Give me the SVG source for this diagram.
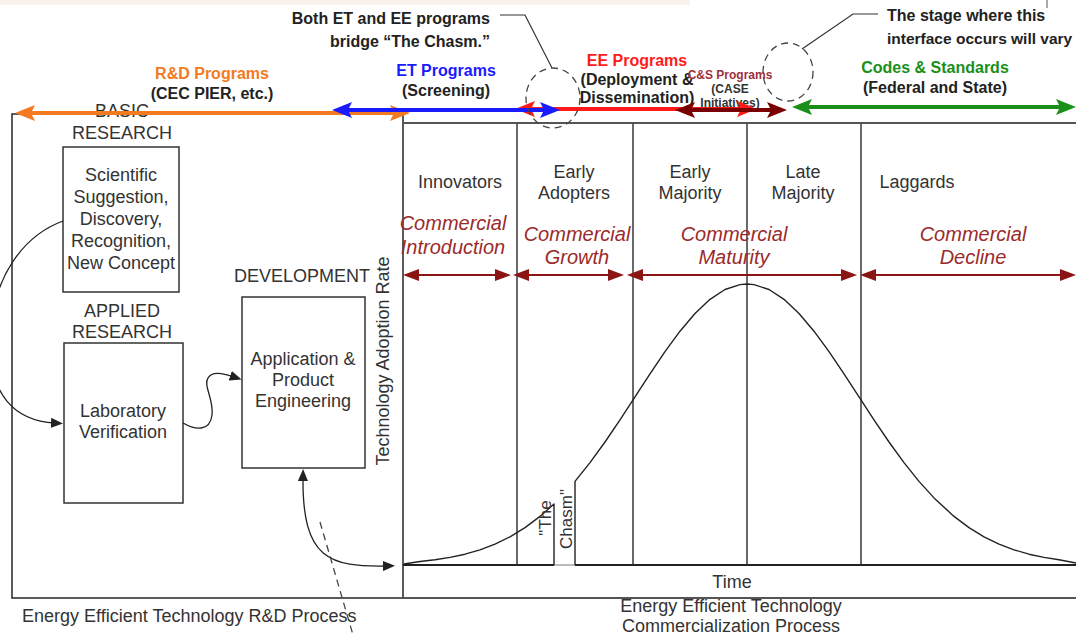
<svg xmlns="http://www.w3.org/2000/svg" width="1076" height="635" viewBox="0 0 1076 635">
<style>
text { font-family: "Liberation Sans", Arial, sans-serif; }
.t { font-size: 18px; fill: #333; text-anchor: middle; }
.it { font-size: 20px; fill: #9b2b2b; font-style: italic; text-anchor: middle; }
.b { font-size: 16px; font-weight: bold; fill: #222; text-anchor: middle; }
.s { font-size: 12px; font-weight: bold; fill: #333; text-anchor: middle; }
.box { fill: #fff; stroke: #333; stroke-width: 1.5; }
.ln { stroke: #444; stroke-width: 1.6; fill: none; }
.conn { stroke: #222; stroke-width: 1.3; fill: none; }
.dash { stroke: #444; stroke-width: 1.3; fill: none; stroke-dasharray: 7 5; }
.prog { stroke-width: 4; fill: none; }
.dr { stroke: #8b1414; stroke-width: 2; fill: none; marker-start: url(#aDr); marker-end: url(#aDr); }
</style>
<defs>
<marker id="aOr" viewBox="0 0 20 16" markerWidth="20" markerHeight="16" refX="8" refY="8" orient="auto-start-reverse" markerUnits="userSpaceOnUse"><path d="M0,0 L20,8 L0,16 L4,8 z" fill="#f47a20"/></marker>
<marker id="aBl" viewBox="0 0 20 16" markerWidth="20" markerHeight="16" refX="8" refY="8" orient="auto-start-reverse" markerUnits="userSpaceOnUse"><path d="M0,0 L20,8 L0,16 L4,8 z" fill="#1a1aff"/></marker>
<marker id="aRd" viewBox="0 0 20 16" markerWidth="20" markerHeight="16" refX="8" refY="8" orient="auto-start-reverse" markerUnits="userSpaceOnUse"><path d="M0,0 L20,8 L0,16 L4,8 z" fill="#ff1a1a"/></marker>
<marker id="aDk" viewBox="0 0 20 16" markerWidth="20" markerHeight="16" refX="8" refY="8" orient="auto-start-reverse" markerUnits="userSpaceOnUse"><path d="M0,0 L20,8 L0,16 L4,8 z" fill="#7a0000"/></marker>
<marker id="aGr" viewBox="0 0 20 16" markerWidth="20" markerHeight="16" refX="8" refY="8" orient="auto-start-reverse" markerUnits="userSpaceOnUse"><path d="M0,0 L20,8 L0,16 L4,8 z" fill="#1a8f1a"/></marker>
<marker id="aDr" viewBox="0 0 16 12" markerWidth="16" markerHeight="12" refX="6" refY="6" orient="auto-start-reverse" markerUnits="userSpaceOnUse"><path d="M0,0 L16,6 L0,12 z" fill="#8b1414"/></marker>
<marker id="aBk" viewBox="0 0 12 10" markerWidth="12" markerHeight="10" refX="4" refY="5" orient="auto-start-reverse" markerUnits="userSpaceOnUse"><path d="M0,0 L12,5 L0,10 z" fill="#222"/></marker>
</defs>

<rect x="0" y="0" width="690" height="5" fill="#faf3ec"/>
<line x1="1047" y1="0" x2="1047" y2="8" stroke="#555" stroke-width="1"/>

<!-- R&D process frame -->
<g id="rd-frame">
<rect x="12" y="114" width="391" height="484" fill="none" stroke="#333" stroke-width="1.6"/>
<text class="t" x="22" y="622" style="text-anchor:start">Energy Efficient Technology R&amp;D Process</text>
</g>

<!-- Commercialization chart -->
<g id="chart">
<line x1="403" y1="123" x2="1076" y2="123" stroke="#555" stroke-width="2"/>
<line x1="403" y1="598" x2="1076" y2="598" stroke="#555" stroke-width="2"/>
<line class="ln" x1="517" y1="123" x2="517" y2="565"/>
<line class="ln" x1="633" y1="123" x2="633" y2="565"/>
<line class="ln" x1="747" y1="123" x2="747" y2="565"/>
<line class="ln" x1="861" y1="123" x2="861" y2="565"/>
<line x1="403" y1="565" x2="554" y2="565" stroke="#222" stroke-width="2"/>
<line x1="554" y1="565" x2="575" y2="565" stroke="#bbb" stroke-width="2"/>
<line x1="575" y1="565" x2="1076" y2="565" stroke="#222" stroke-width="2"/>
<polyline fill="none" stroke="#222" stroke-width="1.4" stroke-linejoin="round" points="404,564 420,561.5 435,559.8 450,557.4 465,554.2 480,549.8 495,544.1 510,536.8 525,527.6 540,516.4 554,503.9 554,565"/>
<polyline fill="none" stroke="#222" stroke-width="1.4" stroke-linejoin="round" points="575,565 575,481.4 590,462.6 605,442 620,419.8 635,396.9 650,373.9 665,351.6 680,331.2 695,313.5 710,299.3 725,289.5 740,284.6 747,284 754,284.6 769,289.5 784,299.3 799,313.5 814,331.2 829,351.6 844,373.9 859,396.9 874,419.8 889,442 904,462.6 919,481.4 934,497.9 954,516.4 969,527.6 984,536.8 999,544.1 1014,549.8 1029,554.2 1044,557.4 1059,559.8 1076,563"/>
<text class="t" style="font-size:17px" transform="translate(551,518) rotate(-90)">"The</text>
<text class="t" style="font-size:17px" transform="translate(572,519) rotate(-90)">Chasm"</text>
<text class="t" transform="translate(389,361) rotate(-90)">Technology Adoption Rate</text>
<text class="t" x="732" y="588">Time</text>
<text class="t" x="731" y="612">Energy Efficient Technology</text>
<text class="t" x="731" y="632">Commercialization Process</text>
</g>

<g id="stage-innovators">
<text class="t" x="460" y="188">Innovators</text>
<text class="it" x="453" y="230">Commercial</text>
<text class="it" x="453" y="254">Introduction</text>
</g>
<g id="stage-early-adopters">
<text class="t" x="574" y="178">Early</text>
<text class="t" x="574" y="199">Adopters</text>
<text class="it" x="577" y="241">Commercial</text>
<text class="it" x="577" y="264">Growth</text>
</g>
<g id="stage-early-majority">
<text class="t" x="690" y="178">Early</text>
<text class="t" x="690" y="199">Majority</text>
<text class="it" x="734" y="241">Commercial</text>
<text class="it" x="734" y="264">Maturity</text>
</g>
<g id="stage-late-majority">
<text class="t" x="803" y="178">Late</text>
<text class="t" x="803" y="199">Majority</text>
</g>
<g id="stage-laggards">
<text class="t" x="917" y="188">Laggards</text>
<text class="it" x="973" y="241">Commercial</text>
<text class="it" x="973" y="264">Decline</text>
</g>

<!-- R&D nodes -->
<g id="basic-research">
<text class="t" x="122" y="117">BASIC</text>
<text class="t" x="122" y="139">RESEARCH</text>
<rect class="box" x="63" y="147" width="116" height="145"/>
<text class="t" x="121" y="181">Scientific</text>
<text class="t" x="121" y="203">Suggestion,</text>
<text class="t" x="121" y="225">Discovery,</text>
<text class="t" x="121" y="247">Recognition,</text>
<text class="t" x="121" y="269">New Concept</text>
</g>
<g id="applied-research">
<text class="t" x="122" y="317">APPLIED</text>
<text class="t" x="122" y="338">RESEARCH</text>
<rect class="box" x="64" y="343" width="119" height="160"/>
<text class="t" x="123" y="417">Laboratory</text>
<text class="t" x="123" y="438">Verification</text>
</g>
<g id="development">
<text class="t" x="302" y="282">DEVELOPMENT</text>
<rect class="box" x="242" y="297" width="123" height="171"/>
<text class="t" x="303" y="365">Application &amp;</text>
<text class="t" x="303" y="386">Product</text>
<text class="t" x="303" y="407">Engineering</text>
</g>

<!-- Program labels -->
<g id="rd-programs">
<text class="b" x="212" y="79" style="fill:#f47a20">R&amp;D Programs</text>
<text class="b" x="212" y="99">(CEC PIER, etc.)</text>
</g>
<g id="et-programs">
<text class="b" x="446" y="76" style="fill:#1a1aff">ET Programs</text>
<text class="b" x="446" y="96">(Screening)</text>
</g>
<g id="ee-programs">
<text class="b" x="637" y="66" style="fill:#ff1a1a">EE Programs</text>
<text class="b" x="637" y="85">(Deployment &amp;</text>
<text class="b" x="637" y="103">Dissemination)</text>
</g>
<g id="cs-programs">
<text class="s" x="730" y="79" style="fill:#a0303a">C&amp;S Programs</text>
<text class="s" x="730" y="93">(CASE</text>
<text class="s" x="730" y="107">Initiatives)</text>
</g>
<g id="codes-standards">
<text class="b" x="935" y="73" style="fill:#1a8f1a">Codes &amp; Standards</text>
<text class="b" x="935" y="93">(Federal and State)</text>
</g>
<g id="callout-chasm">
<text class="b" x="490" y="24" style="text-anchor:end">Both ET and EE programs</text>
<text class="b" x="490" y="47" style="text-anchor:end">bridge “The Chasm.”</text>
</g>
<g id="callout-stage">
<text class="b" x="887" y="21" style="text-anchor:start">The stage where this</text>
<text class="b" x="887" y="44" style="text-anchor:start;font-size:15.5px">interface occurs will vary</text>
</g>

<g id="connectors">
<line class="prog" x1="27" y1="113" x2="398" y2="113" stroke="#f47a20" marker-start="url(#aOr)" marker-end="url(#aOr)"/>
<line class="prog" x1="527" y1="109" x2="745" y2="109" stroke="#ff1a1a" marker-start="url(#aRd)" marker-end="url(#aRd)"/>
<line class="prog" x1="344" y1="110" x2="548" y2="110" stroke="#1a1aff" marker-start="url(#aBl)" marker-end="url(#aBl)"/>
<line class="prog" x1="687" y1="110" x2="775" y2="110" stroke="#7a0000" marker-start="url(#aDk)" marker-end="url(#aDk)"/>
<line class="prog" x1="804" y1="107" x2="1064" y2="107" stroke="#1a8f1a" marker-start="url(#aGr)" marker-end="url(#aGr)"/>

<line class="dr" x1="413" y1="275" x2="501" y2="275"/>
<line class="dr" x1="523" y1="275" x2="614" y2="275"/>
<line class="dr" x1="637" y1="275" x2="847" y2="275"/>
<line class="dr" x1="870" y1="275" x2="1066" y2="275"/>

<path class="conn" d="M63,221 C25,235 -8,275 -10,340 C-11,395 15,421 55,423" marker-end="url(#aBk)"/>
<path class="conn" d="M183,423 C195,430 210,432 212,415 C214,400 203,385 208,378 C212,371 222,373 234,377" marker-end="url(#aBk)"/>
<path class="conn" d="M303,477 C302,560 330,567 387,566" marker-start="url(#aBk)" marker-end="url(#aBk)"/>
<line class="dash" x1="320" y1="522" x2="353" y2="635"/>

<polyline fill="none" stroke="#333" stroke-width="1.2" points="500,15 525,15 552,68"/>
<ellipse cx="553" cy="98" rx="27" ry="30" fill="none" stroke="#444" stroke-width="1.3" stroke-dasharray="7 5"/>
<polyline fill="none" stroke="#333" stroke-width="1.2" points="878,14 853,14 802,49"/>
<ellipse cx="788" cy="72" rx="25" ry="29" fill="none" stroke="#444" stroke-width="1.3" stroke-dasharray="7 5"/>
</g>
</svg>
